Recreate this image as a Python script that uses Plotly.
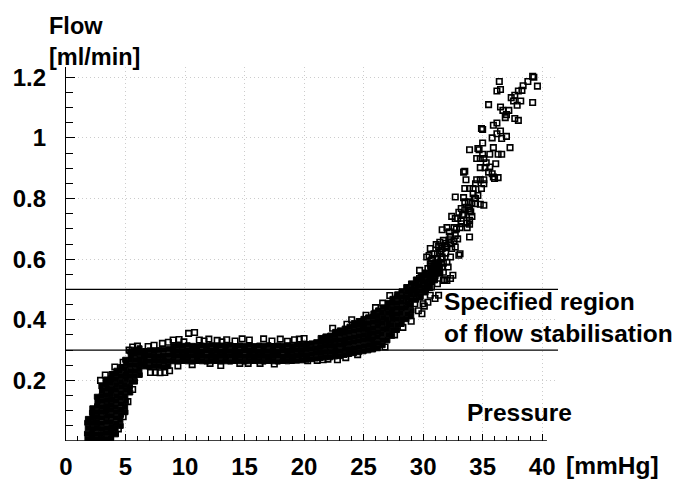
import plotly.graph_objects as go

# ---------------- data ----------------
# dense part of the initial rise (pressure mmHg, flow ml/min)
rise_pressure = [
    1.80, 1.76, 1.83, 1.78, 1.84,
    2.20, 2.17, 2.23, 2.19, 2.22, 2.18, 2.21,
    2.60, 2.57, 2.63, 2.59, 2.62, 2.58, 2.61, 2.64, 2.59,
    3.00, 2.97, 3.03, 2.99, 3.02, 2.98, 3.01, 3.04, 2.99, 3.02, 2.97,
    3.40, 3.37, 3.43, 3.39, 3.42, 3.38, 3.41, 3.44, 3.39, 3.42, 3.37, 3.40,
    3.80, 3.77, 3.83, 3.79, 3.82, 3.78, 3.81, 3.84, 3.79, 3.82, 3.77, 3.80, 3.83,
    4.20, 4.17, 4.23, 4.19, 4.22, 4.18, 4.21, 4.24, 4.19, 4.22, 4.17, 4.20, 4.23,
    4.60, 4.57, 4.63, 4.59, 4.62, 4.58, 4.61, 4.64, 4.59, 4.62, 4.57, 4.60,
    5.00, 4.97, 5.03, 4.99, 5.02, 4.98, 5.01, 5.04, 4.99, 5.02, 4.97,
    5.40, 5.37, 5.43, 5.39, 5.42, 5.38, 5.41, 5.44, 5.39,
    5.80, 5.77, 5.83, 5.79, 5.82, 5.78, 5.81,
    6.20, 6.17, 6.23, 6.19, 6.22, 6.18,
]
rise_flow = [
    0.006, 0.024, 0.042, 0.060, 0.073,
    0.006, 0.023, 0.041, 0.058, 0.076, 0.093, 0.108,
    0.006, 0.024, 0.043, 0.061, 0.079, 0.097, 0.115, 0.131, 0.146,
    0.006, 0.022, 0.040, 0.058, 0.077, 0.095, 0.113, 0.131, 0.149, 0.166, 0.180,
    0.008, 0.026, 0.044, 0.063, 0.081, 0.099, 0.117, 0.135, 0.153, 0.171, 0.188, 0.203,
    0.010, 0.028, 0.046, 0.064, 0.083, 0.101, 0.119, 0.137, 0.155, 0.173, 0.191, 0.208, 0.221,
    0.022, 0.040, 0.058, 0.077, 0.095, 0.113, 0.131, 0.149, 0.167, 0.185, 0.203, 0.220, 0.232,
    0.050, 0.068, 0.086, 0.104, 0.123, 0.141, 0.159, 0.177, 0.195, 0.213, 0.230, 0.244,
    0.095, 0.113, 0.131, 0.149, 0.167, 0.185, 0.203, 0.221, 0.239, 0.256, 0.268,
    0.160, 0.178, 0.196, 0.214, 0.232, 0.250, 0.268, 0.284, 0.295,
    0.196, 0.214, 0.232, 0.250, 0.268, 0.286, 0.301,
    0.218, 0.236, 0.254, 0.272, 0.290, 0.306,
]

# dense plateau (region of flow stabilisation)
plateau_pressure = [
    6.60, 6.63, 6.57, 6.62, 7.00, 7.03, 6.97, 7.02, 7.40, 7.43, 7.37, 7.42,
    7.80, 7.83, 7.77, 7.82, 8.20, 8.23, 8.17, 8.22, 8.60, 8.63, 8.57, 8.62,
    9.00, 9.03, 8.97, 9.02, 9.40, 9.43, 9.37, 9.42, 9.80, 9.83, 9.77, 9.82,
    10.20, 10.23, 10.17, 10.22, 10.60, 10.63, 10.57, 10.62, 11.00, 11.03, 10.97, 11.02,
    11.40, 11.43, 11.37, 11.42, 11.80, 11.83, 11.77, 11.82, 12.20, 12.23, 12.17, 12.22,
    12.60, 12.63, 12.57, 12.62, 13.00, 13.03, 12.97, 13.02, 13.40, 13.43, 13.37, 13.42,
    13.80, 13.83, 13.77, 13.82, 14.20, 14.23, 14.17, 14.22, 14.60, 14.63, 14.57, 14.62,
    15.00, 15.03, 14.97, 15.02, 15.40, 15.43, 15.37, 15.42, 15.80, 15.83, 15.77, 15.82,
    16.20, 16.23, 16.17, 16.22, 16.60, 16.63, 16.57, 16.62, 17.00, 17.03, 16.97, 17.02,
    17.40, 17.43, 17.37, 17.42, 17.80, 17.83, 17.77, 17.82, 18.20, 18.23, 18.17, 18.22,
    18.60, 18.63, 18.57, 18.62, 19.00, 19.03, 18.97, 19.02, 19.40, 19.43, 19.37, 19.42,
    19.80, 19.83, 19.77, 19.82, 20.20, 20.23, 20.17, 20.22, 20.60, 20.63, 20.57, 20.62,
]
plateau_flow = [
    0.246, 0.264, 0.281, 0.297, 0.245, 0.263, 0.282, 0.299, 0.247, 0.265, 0.281, 0.298,
    0.246, 0.263, 0.280, 0.300, 0.245, 0.264, 0.282, 0.301, 0.247, 0.265, 0.283, 0.303,
    0.263, 0.280, 0.297, 0.313, 0.262, 0.281, 0.298, 0.315, 0.264, 0.280, 0.296, 0.314,
    0.263, 0.279, 0.297, 0.316, 0.262, 0.281, 0.298, 0.314, 0.264, 0.280, 0.297, 0.313,
    0.263, 0.281, 0.296, 0.315, 0.262, 0.279, 0.298, 0.314, 0.263, 0.280, 0.297, 0.316,
    0.264, 0.281, 0.298, 0.313, 0.262, 0.280, 0.296, 0.315, 0.263, 0.279, 0.297, 0.314,
    0.262, 0.281, 0.298, 0.316, 0.264, 0.280, 0.297, 0.313, 0.263, 0.281, 0.296, 0.315,
    0.262, 0.279, 0.298, 0.314, 0.263, 0.280, 0.297, 0.316, 0.264, 0.281, 0.298, 0.313,
    0.263, 0.280, 0.296, 0.315, 0.262, 0.279, 0.297, 0.314, 0.264, 0.281, 0.298, 0.316,
    0.263, 0.280, 0.297, 0.313, 0.262, 0.281, 0.296, 0.315, 0.264, 0.279, 0.298, 0.314,
    0.263, 0.280, 0.297, 0.316, 0.264, 0.281, 0.298, 0.313, 0.265, 0.282, 0.299, 0.316,
    0.266, 0.283, 0.300, 0.318, 0.268, 0.285, 0.302, 0.320, 0.270, 0.288, 0.305, 0.322,
]

# dense transition towards the steep rise
transition_pressure = [
    21.00, 21.03, 20.97, 21.02,
    21.40, 21.43, 21.37, 21.42, 21.39,
    21.80, 21.83, 21.77, 21.82, 21.79,
    22.20, 22.23, 22.17, 22.22, 22.19,
    22.60, 22.63, 22.57, 22.62, 22.59, 22.61,
    23.00, 23.03, 22.97, 23.02, 22.99, 23.01,
    23.40, 23.43, 23.37, 23.42, 23.39, 23.41,
    23.80, 23.83, 23.77, 23.82, 23.79, 23.81,
    24.20, 24.23, 24.17, 24.22, 24.19, 24.21, 24.18,
    24.60, 24.63, 24.57, 24.62, 24.59, 24.61, 24.58,
    25.00, 25.03, 24.97, 25.02, 24.99, 25.01, 24.98,
    25.40, 25.43, 25.37, 25.42, 25.39, 25.41, 25.38,
    25.80, 25.83, 25.77, 25.82, 25.79, 25.81, 25.78, 25.82,
    26.20, 26.23, 26.17, 26.22, 26.19, 26.21, 26.18, 26.22,
    26.60, 26.63, 26.57, 26.62, 26.59, 26.61, 26.58, 26.62,
    27.00, 27.03, 26.97, 27.02, 26.99, 27.01, 26.98, 27.02,
    27.40, 27.43, 27.37, 27.42, 27.39, 27.41, 27.38, 27.42,
    27.80, 27.83, 27.77, 27.82, 27.79, 27.81, 27.78, 27.82,
    28.20, 28.23, 28.17, 28.22, 28.19, 28.21, 28.18,
    28.60, 28.63, 28.57, 28.62, 28.59, 28.61, 28.58,
    29.00, 29.03, 28.97, 29.02, 28.99, 29.01, 28.98,
    29.40, 29.43, 29.37, 29.42, 29.39,
    29.80, 29.83, 29.77, 29.82, 29.79,
    30.20, 30.23, 30.17, 30.22, 30.19,
    30.60, 30.63, 30.57, 30.62, 30.59,
    31.00, 31.03, 30.97, 31.02,
    31.40, 31.43, 31.37,
]
transition_flow = [
    0.272, 0.290, 0.308, 0.326,
    0.274, 0.292, 0.310, 0.328, 0.340,
    0.276, 0.294, 0.312, 0.330, 0.345,
    0.276, 0.294, 0.312, 0.330, 0.348,
    0.279, 0.297, 0.315, 0.333, 0.351, 0.360,
    0.280, 0.298, 0.316, 0.334, 0.352, 0.365,
    0.284, 0.302, 0.320, 0.338, 0.356, 0.371,
    0.287, 0.305, 0.323, 0.341, 0.359, 0.377,
    0.290, 0.308, 0.326, 0.344, 0.362, 0.380, 0.389,
    0.293, 0.311, 0.329, 0.347, 0.365, 0.383, 0.396,
    0.296, 0.314, 0.332, 0.350, 0.368, 0.386, 0.403,
    0.299, 0.317, 0.335, 0.353, 0.371, 0.389, 0.408,
    0.302, 0.320, 0.338, 0.356, 0.374, 0.392, 0.410, 0.421,
    0.306, 0.324, 0.342, 0.360, 0.378, 0.396, 0.414, 0.431,
    0.316, 0.334, 0.352, 0.370, 0.388, 0.406, 0.424, 0.441,
    0.332, 0.350, 0.368, 0.386, 0.404, 0.422, 0.440, 0.456,
    0.347, 0.365, 0.383, 0.401, 0.419, 0.437, 0.455, 0.469,
    0.366, 0.384, 0.402, 0.420, 0.438, 0.456, 0.474, 0.484,
    0.386, 0.404, 0.422, 0.440, 0.458, 0.476, 0.494,
    0.402, 0.420, 0.438, 0.456, 0.474, 0.492, 0.508,
    0.412, 0.430, 0.448, 0.466, 0.484, 0.502, 0.520,
    0.466, 0.484, 0.502, 0.520, 0.533,
    0.476, 0.494, 0.512, 0.530, 0.545,
    0.490, 0.508, 0.526, 0.544, 0.556,
    0.505, 0.523, 0.541, 0.559, 0.575,
    0.530, 0.548, 0.566, 0.584,
    0.556, 0.574, 0.592,
]

# individually visible readings (steep rise and scattered outliers)
scatter_pressure = [
    39.2, 38.8, 39.6, 38.4, 38.3, 38.0, 36.4, 36.5, 36.2, 37.7, 37.4, 37.6, 38.2, 39.2,
    37.9, 35.5, 36.5, 36.7, 37.2, 37.0, 36.9, 37.7, 38.0, 36.2, 35.9, 35.0, 36.5, 36.2,
    35.8, 36.6, 35.0, 35.9, 34.6, 37.3, 39.3, 34.9,
    33.9, 34.7, 35.6, 35.0, 36.3, 36.6, 34.5, 34.8, 35.1, 33.4, 34.8, 35.2, 35.6, 35.5,
    35.8, 35.9, 36.0, 36.3, 33.6, 34.5, 34.8, 35.1, 34.4, 35.1, 33.5, 33.9, 34.2, 34.9,
    34.2, 32.7, 33.4, 33.5, 33.8, 34.1, 34.4, 34.8, 35.1, 33.2, 33.5, 33.8, 32.4, 32.7,
    32.9, 33.2, 33.7, 33.9, 34.1, 32.0, 32.6, 33.1, 33.7, 33.5,
    31.6, 33.2, 33.9, 32.3, 32.7, 32.9, 33.9, 31.4, 31.7, 31.3, 31.6, 32.0, 32.3, 30.9,
    31.2, 31.4, 32.4, 32.7, 30.8, 31.2, 31.6, 32.3, 33.1, 30.6, 30.9, 31.7, 32.0, 30.4,
    30.9, 31.6, 32.1, 30.2, 30.7, 31.4, 31.7, 29.7, 30.3, 30.9, 31.8, 32.3, 29.6, 30.0,
    30.4, 31.2, 31.7, 32.0, 29.3, 29.7, 30.2, 30.7, 28.6, 29.2, 29.7, 30.6, 31.0, 31.3,
    28.3, 28.8, 29.3, 30.0, 30.4, 32.5, 33.0, 30.6, 30.3, 29.7, 30.8, 31.1, 30.6, 31.0,
    31.5, 31.9, 29.9, 30.1, 29.6, 29.0, 28.3, 27.6, 26.8,
    31.0, 31.3, 30.7, 31.5, 31.9, 32.2, 31.1, 30.5, 33.4, 34.0, 34.3, 35.3, 36.1, 37.0,
    31.9, 32.6, 32.2, 32.8, 33.3, 33.0, 34.4, 34.6, 33.9,
    9.0, 9.5, 10.3, 10.8, 11.2, 12.0, 12.7, 13.5, 14.8, 15.4, 16.6, 18.0, 19.2, 19.6,
    20.0, 6.9, 7.4, 8.1, 8.6, 9.9, 11.6, 13.1, 14.2, 17.3, 18.6,
    7.1, 7.5, 7.9, 8.3, 8.7, 9.4, 10.6, 12.1, 13.0, 14.6, 15.3, 16.3, 17.5, 19.5,
    20.3, 21.1, 21.6, 22.0, 22.8, 23.5, 24.5,
    2.9, 3.3, 4.1, 4.8, 5.3, 5.6, 6.0, 4.4, 4.8, 5.2, 5.6,
    22.4, 23.6, 24.0, 25.2, 26.0, 26.6, 27.2,
]
scatter_flow = [
    1.203, 1.186, 1.171, 1.172, 1.157, 1.155, 1.186, 1.160, 1.155, 1.141, 1.133, 1.122, 1.122, 1.117,
    1.108, 1.110, 1.102, 1.091, 1.091, 1.077, 1.067, 1.064, 1.058, 1.049, 1.042, 1.028, 1.023, 1.014,
    1.000, 0.998, 0.983, 0.968, 0.965, 0.968, 1.200, 1.031,
    0.961, 0.961, 0.946, 0.946, 0.946, 0.946, 0.932, 0.932, 0.932, 0.887, 0.902, 0.902, 0.904, 0.887,
    0.882, 0.871, 0.866, 0.869, 0.862, 0.862, 0.862, 0.862, 0.849, 0.849, 0.833, 0.833, 0.833, 0.833,
    0.816, 0.805, 0.803, 0.789, 0.789, 0.785, 0.783, 0.781, 0.778, 0.767, 0.763, 0.767, 0.741, 0.734,
    0.734, 0.726, 0.719, 0.728, 0.741, 0.704, 0.704, 0.704, 0.704, 0.890,
    0.697, 0.717, 0.715, 0.675, 0.678, 0.667, 0.673, 0.656, 0.662, 0.642, 0.635, 0.640, 0.651, 0.618,
    0.618, 0.623, 0.635, 0.640, 0.602, 0.602, 0.607, 0.607, 0.618, 0.585, 0.585, 0.587, 0.590, 0.569,
    0.565, 0.574, 0.574, 0.552, 0.552, 0.554, 0.557, 0.536, 0.536, 0.541, 0.532, 0.536, 0.519, 0.519,
    0.521, 0.519, 0.530, 0.530, 0.503, 0.503, 0.503, 0.508, 0.481, 0.486, 0.475, 0.481, 0.470, 0.481,
    0.464, 0.458, 0.453, 0.453, 0.458, 0.547, 0.613, 0.635, 0.607, 0.563, 0.560, 0.575, 0.530, 0.545,
    0.600, 0.620, 0.420, 0.445, 0.430, 0.395, 0.375, 0.350, 0.310,
    0.588, 0.562, 0.596, 0.628, 0.652, 0.664, 0.648, 0.612, 0.748, 0.756, 0.802, 0.918, 0.915, 1.005,
    0.645, 0.660, 0.690, 0.700, 0.745, 0.755, 0.800, 0.810, 0.760,
    0.333, 0.335, 0.355, 0.358, 0.333, 0.336, 0.332, 0.334, 0.337, 0.333, 0.337, 0.336, 0.334, 0.336,
    0.338, 0.312, 0.316, 0.322, 0.326, 0.327, 0.330, 0.327, 0.330, 0.330, 0.329,
    0.226, 0.226, 0.225, 0.226, 0.232, 0.248, 0.252, 0.256, 0.249, 0.256, 0.256, 0.256, 0.254, 0.270,
    0.265, 0.266, 0.268, 0.270, 0.268, 0.275, 0.285,
    0.200, 0.218, 0.244, 0.260, 0.300, 0.310, 0.313, 0.040, 0.080, 0.130, 0.170,
    0.372, 0.385, 0.400, 0.415, 0.440, 0.455, 0.480,
]

# specified region of flow stabilisation (ml/min)
region_bounds = [0.3, 0.5]

x_tick_values = [0, 5, 10, 15, 20, 25, 30, 35, 40]
x_tick_labels = ["0", "5", "10", "15", "20", "25", "30", "35", "40"]
y_tick_values = [0.2, 0.4, 0.6, 0.8, 1.0, 1.2]
y_tick_labels = ["0.2", "0.4", "0.6", "0.8", "1", "1.2"]

# ---------------- figure ----------------
FONT = "Liberation Sans, Arial, sans-serif"
W, H = 676, 481
ML, MR, MT, MB = 66, 118, 67, 40
XMAX, YMAX = 41.33, 1.234

fig = go.Figure()

marker_open = dict(symbol="square-open", size=5.5, color="black", line=dict(width=1.6, color="black"))
marker_fill = dict(symbol="square", size=5, color="black", line=dict(width=1, color="black"))

for px, fy, mk in [
    (scatter_pressure, scatter_flow, marker_open),
    (rise_pressure, rise_flow, marker_fill),
    (plateau_pressure, plateau_flow, marker_fill),
    (transition_pressure, transition_flow, marker_fill),
]:
    fig.add_trace(go.Scatter(x=px, y=fy, mode="markers", marker=mk,
                             showlegend=False, hoverinfo="skip"))

for yb in region_bounds:
    fig.add_shape(type="line", xref="paper", yref="y", x0=0, x1=1, y0=yb, y1=yb,
                  line=dict(color="black", width=1.3), layer="above")

# x axis line (ends at 40)
fig.add_shape(type="line", xref="x", yref="y", x0=0, x1=40.4, y0=0, y1=0,
              line=dict(color="black", width=1.3), layer="above")

tick_font = dict(family=FONT, size=24, color="black", weight="bold")
grid = dict(showgrid=True, gridcolor="#cccccc", gridwidth=1, griddash="1px,3px")

fig.update_xaxes(
    range=[0, XMAX], tickmode="array", tickvals=x_tick_values, ticktext=x_tick_labels,
    ticks="inside", ticklen=7, tickwidth=1, tickcolor="black", automargin=False,
    showline=False, zeroline=False, tickfont=tick_font, ticklabelstandoff=9,
    minor=dict(tickmode="array", tickvals=list(range(0, 41)), ticks="inside",
               ticklen=5, tickwidth=1, tickcolor="black", showgrid=False),
    **grid,
)
fig.update_yaxes(
    range=[0, YMAX], tickmode="array", tickvals=y_tick_values, ticktext=y_tick_labels,
    ticks="inside", ticklen=9, tickwidth=1, tickcolor="black", automargin=False,
    showline=True, linecolor="black", linewidth=1.3, zeroline=False,
    tickfont=tick_font, ticklabelstandoff=14,
    minor=dict(tickmode="array", tickvals=[round(i * 0.05, 2) for i in range(1, 25)],
               ticks="inside", ticklen=7, tickwidth=1, tickcolor="black", showgrid=False),
    **grid,
)

PW, PH = W - ML - MR, H - MT - MB


def px_x(p):
    return (p - ML) / PW


def px_y(p):
    return (H - MB - p) / PH


ann_font = dict(family=FONT, size=24.5, color="black", weight="bold")
title_font = dict(family=FONT, size=23.5, color="black", weight="bold")
annotations = [
    dict(text="Flow<br>[ml/min]", x=px_x(47), y=px_y(42), xanchor="left", yanchor="middle",
         align="left", font=title_font),
    dict(text="Specified region<br>of flow stabilisation", x=px_x(442), y=px_y(317),
         xanchor="left", yanchor="middle", align="left", font=ann_font),
    dict(text="Pressure", x=px_x(465), y=px_y(412), xanchor="left", yanchor="middle", font=ann_font),
    dict(text="[mmHg]", x=px_x(564), y=px_y(465), xanchor="left", yanchor="middle", font=ann_font),
]
for a in annotations:
    a.update(xref="paper", yref="paper", showarrow=False)
fig.update_layout(annotations=annotations)

fig.update_layout(
    width=W, height=H,
    margin=dict(l=ML, r=MR, t=MT, b=MB, pad=0),
    paper_bgcolor="white", plot_bgcolor="white",
    font=dict(family=FONT, size=24, color="black"),
)

fig.write_html("out.html", config={"displayModeBar": False},
               post_script="document.body.style.margin='0px';")
